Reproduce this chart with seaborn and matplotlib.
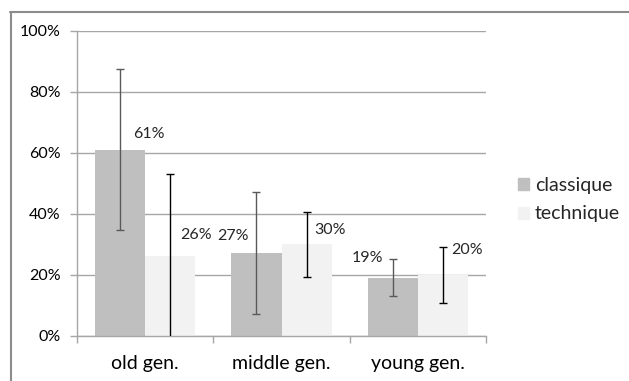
import matplotlib
matplotlib.use("Agg")
import matplotlib.pyplot as plt
import pandas as pd
import seaborn as sns
from matplotlib.lines import Line2D
from matplotlib.ticker import FixedLocator, PercentFormatter

# data (percent)
generations = ["old gen.", "middle gen.", "young gen."]
series = ["classique", "technique"]
classique = [61, 27, 19]
technique = [26, 30, 20]
classique_err = [26.5, 20, 6]
technique_err = [27, 10.7, 9.2]
y_ticks = [0, 20, 40, 60, 80, 100]

# label offsets (pixels) relative to the top centre of each bar
label_offsets = {
    "classique": [(29, 16), (-23, 17), (-25, 20)],
    "technique": [(26, 21), (23, 14), (24, 25)],
}

colors = {"classique": "#BFBFBF", "technique": "#F2F2F2"}
err_colors = {"classique": "#595959", "technique": "#000000"}
grid_col = "#A6A6A6"

df = pd.DataFrame({
    "gen": generations * 2,
    "series": ["classique"] * 3 + ["technique"] * 3,
    "value": classique + technique,
})

sns.set_theme(style="white")
plt.rcParams["font.family"] = ["Lato", "DejaVu Sans"]

fig = plt.figure(figsize=(6.29, 3.81), dpi=100)
ax = fig.add_axes([77 / 629, 1 - 335.7 / 381, 409 / 629, 305 / 381])

sns.barplot(data=df, x="gen", y="value", hue="series", order=generations,
            hue_order=series, palette=colors, width=0.735, gap=0,
            errorbar=None, saturation=1, linewidth=0, ax=ax, legend=False)

errs = {"classique": classique_err, "technique": technique_err}
vals = {"classique": classique, "technique": technique}
for k, name in enumerate(series):
    bars = ax.containers[k]
    xs = [b.get_x() + b.get_width() / 2 for b in bars]
    ax.errorbar(xs, vals[name], yerr=errs[name], fmt="none",
                ecolor=err_colors[name], elinewidth=1, capsize=2.6,
                capthick=1, zorder=4)
    for x, v, off in zip(xs, vals[name], label_offsets[name]):
        ax.annotate(f"{v}%", xy=(x, v), xytext=off, textcoords="offset pixels",
                    ha="center", va="center", fontsize=11.5, color="#262626",
                    zorder=5)

ax.set_ylim(0, 100)
ax.set_xlim(-0.5, 2.5)
ax.set_yticks(y_ticks)
ax.yaxis.set_major_formatter(PercentFormatter(decimals=0))
ax.yaxis.grid(True, color=grid_col, linewidth=1)
ax.set_axisbelow(True)
ax.set_xlabel("")
ax.set_ylabel("")

ax.xaxis.set_minor_locator(FixedLocator([-0.5, 0.5, 1.5, 2.5]))
ax.tick_params(axis="x", which="major", length=0, pad=14, labelsize=14,
               labelcolor="#000000")
ax.tick_params(axis="x", which="minor", length=5, width=1, color=grid_col,
               bottom=True)
ax.tick_params(axis="y", length=5, width=1, color=grid_col, left=True, pad=7,
               labelsize=11.5, labelcolor="#000000")

for side in ["top", "right"]:
    ax.spines[side].set_visible(False)
for side in ["left", "bottom"]:
    ax.spines[side].set_color(grid_col)
    ax.spines[side].set_linewidth(1)

handles = [plt.Rectangle((0, 0), 1, 1, color=colors[s]) for s in series]
fig.legend(handles, series, loc="upper left",
           bbox_to_anchor=(508 / 629, 1 - 167 / 381), frameon=False,
           handlelength=0.57, handleheight=0.57, handletextpad=0.3,
           labelspacing=0.6, fontsize=14, borderpad=0)

# partial outer frame (top and left edges)
fig.add_artist(Line2D([10 / 629, 1], [1 - 11.5 / 381] * 2, color="#8C8C8C",
                      linewidth=1.5, transform=fig.transFigure))
fig.add_artist(Line2D([10.5 / 629] * 2, [0, 1 - 11.5 / 381], color="#8C8C8C",
                      linewidth=1.5, transform=fig.transFigure))

fig.savefig("out.png", dpi=100, facecolor="white")
